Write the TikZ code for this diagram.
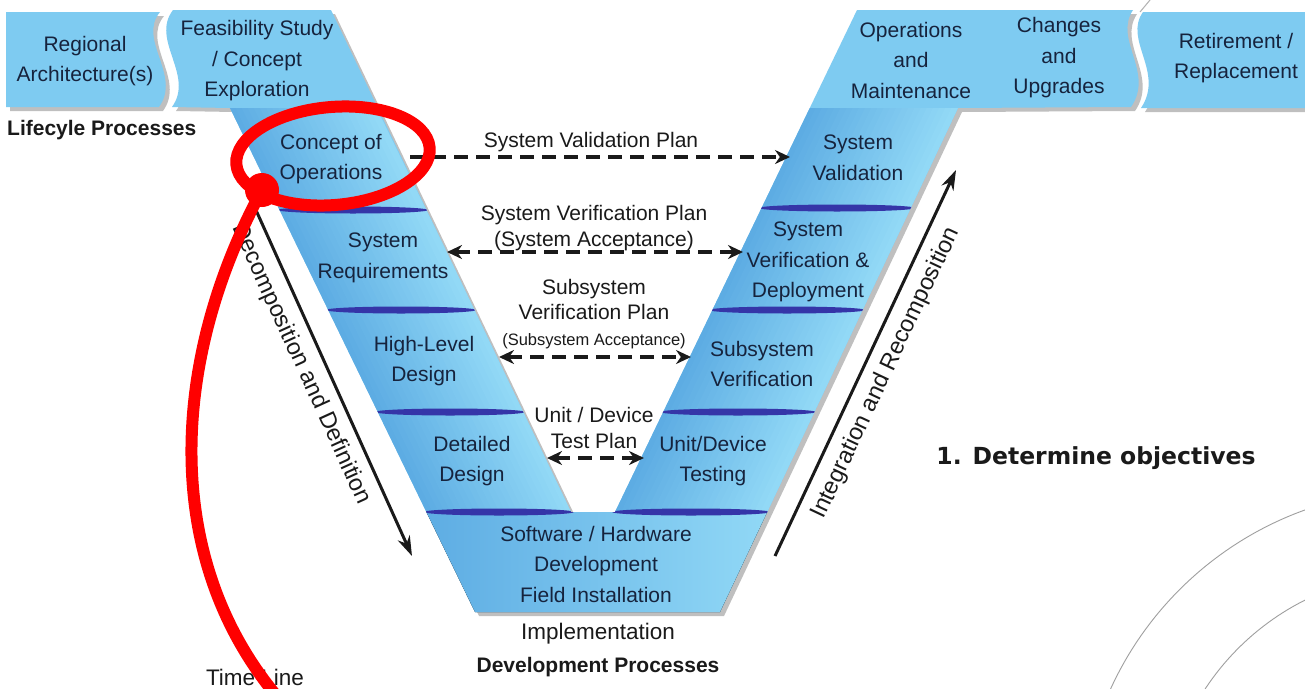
\documentclass[tikz,border=0pt]{standalone}
\usepackage{fontspec}
\setmainfont{Liberation Sans}
\newfontfamily\heavy{DejaVu Sans}
\usetikzlibrary{shadows,arrows.meta}
\definecolor{vdark}{HTML}{5DACE3}
\definecolor{vlight}{HTML}{92D9F6}
\definecolor{vmid}{HTML}{7ECBF1}
\definecolor{vline}{HTML}{3535A8}
\definecolor{navy}{HTML}{16233D}
\definecolor{ink}{HTML}{1A1A1A}
\begin{document}
\begin{tikzpicture}[x=1pt,y=-1pt,
  lbl/.style={align=center,text=navy,font=\fontsize{21}{30.5}\selectfont,inner sep=0pt},
  outl/.style={align=center,text=ink,font=\fontsize{22.5}{28}\selectfont,inner sep=0pt},
  boldl/.style={text=ink,font=\bfseries\fontsize{21}{26}\selectfont,inner sep=0pt},
  rotl/.style={text=ink,font=\fontsize{23.5}{28}\selectfont,inner sep=0pt},
  planl/.style={align=center,text=ink,font=\fontsize{21}{26}\selectfont,inner sep=0pt},
  planarrow/.style={line width=3.4pt,ink,dash pattern=on 14pt off 8pt},
  bigarrow/.style={line width=3pt,ink,-{Stealth[length=20pt,width=13pt]}},
  boxshadow/.style={drop shadow={shadow xshift=4pt,shadow yshift=-4pt,opacity=0.5}},
  redmark/.style={draw=red,line width=12pt}
]
\useasboundingbox (0,0) rectangle (1305,688);
\fill[white] (0,0) rectangle (1305,688);

% background arcs
\draw[gray!75,line width=0.9pt] (1420,830) circle[radius=340pt];
\draw[gray!75,line width=0.9pt] (1420,830) circle[radius=257pt];
\draw[gray!60,line width=1pt] (1150,0) -- (1140,12);

\def\Vpath{(173,10) -- (331,10) -- (571,512) -- (615,512) -- (857,10) -- (1133,10)
  .. controls (1113,40) and (1155,72) .. (1131,107) -- (958,108) -- (720,612)
  -- (475,612) -- (230,108) -- (172,107) .. controls (195,75) and (150,40) .. (173,10) -- cycle}

% regional box
\fill[vmid,boxshadow] (6,12) -- (160,12) .. controls (137,40) and (182,75) .. (159,107) -- (6,107) -- cycle;
% retirement box
\fill[vmid,boxshadow] (1143,12) -- (1305,12) -- (1305,108) -- (1141,108) .. controls (1165,72) and (1123,40) .. (1143,12) -- cycle;

% main V
\fill[vmid,boxshadow] \Vpath;
\begin{scope}
\path[clip] \Vpath;
\foreach \i in {0,...,23}{
  \pgfmathsetmacro\p{100*\i/23}
  \fill[vlight!\p!vdark] ({230+\i*6.083-0.6},108) -- ({230+(\i+1)*6.083+0.6},108)
     -- ({427+(\i+1)*6.083+0.6},512.5) -- ({427+\i*6.083-0.6},512.5) -- cycle;
  \fill[vlight!\p!vdark] ({810+\i*6.167-0.6},108) -- ({810+(\i+1)*6.167+0.6},108)
     -- ({615+(\i+1)*6.333+0.6},512.5) -- ({615+\i*6.333-0.6},512.5) -- cycle;
}
\fill[left color=vdark,right color=vlight] (420,512) rectangle (775,615);
\foreach \cx/\cy/\rx in {353/210/75, 401/310/75, 450/412/75, 499/512/75, 837/208/78, 787/310/78, 738/412/78, 691/512/79}
  \fill[vline] (\cx,\cy) ellipse [x radius=\rx, y radius=3.5];
\end{scope}

% labels in shapes
\node[lbl] (regional) at (85,61) {Regional\\Architecture(s)};
\node[lbl] (feas) at (257,61) {Feasibility Study\\/ Concept\\Exploration};
\node[lbl] (conops) at (331,159) {Concept of\\Operations};
\node[lbl] (sysreq) at (383,258) {System\\Requirements};
\node[lbl] (hld) at (424,361) {High-Level\\Design};
\node[lbl] (dd) at (472,461) {Detailed\\Design};
\node[lbl] (sw) at (596,564) {Software / Hardware\\Development\\Field Installation};
\node[lbl] (ops) at (911,60) {Operations\\and\\Maintenance};
\node[lbl] (chg) at (1059,58) {Changes\\and\\Upgrades};
\node[lbl] (ret) at (1236,58) {Retirement /\\Replacement};
\node[lbl] (sysval) at (858,158) {System\\Validation};
\node[lbl] (sysver) at (808,262) {System\\Verification \&\\Deployment};
\node[lbl] (subver) at (762,364) {Subsystem\\Verification};
\node[lbl] (unit) at (713,461) {Unit/Device\\Testing};

% outside labels
\node[boldl,anchor=west] (life) at (7,130) {Lifecyle Processes};
\node[outl] (impl) at (598,634) {Implementation};
\node[boldl] (devp) at (598,667) {Development Processes};
\node[outl] (time) at (255,677) {Time Line};
\node[text=ink,font=\heavy\bfseries\fontsize{23.5}{28}\selectfont,inner sep=0pt] (obj) at (1096,458) {1. Determine objectives};

% plan labels and arrows
\node[planl] (svp) at (591,142) {System Validation Plan};
\node[planl] (sverp) at (594,228) {System Verification Plan\\(System Acceptance)};
\node[planl,font=\fontsize{21}{25.5}\selectfont] (subvp) at (594,314) {Subsystem\\Verification Plan\\{\fontsize{16.5}{20}\selectfont(Subsystem Acceptance)}};
\node[planl] (udtp) at (594,428) {Unit / Device\\Test Plan};

\coordinate (a1) at (410,157); \coordinate (b1) at (790,157);
\coordinate (a2) at (447,252); \coordinate (b2) at (743,252);
\coordinate (a3) at (499,357); \coordinate (b3) at (691,357);
\coordinate (a4) at (547,458); \coordinate (b4) at (644,458);
\draw[planarrow,-{Stealth[length=15pt,width=14pt]}] (a1) -- (b1);
\draw[planarrow,{Stealth[length=15pt,width=14pt]}-{Stealth[length=15pt,width=14pt]}] (a2) -- (b2);
\draw[planarrow,{Stealth[length=15pt,width=14pt]}-{Stealth[length=15pt,width=14pt]}] (a3) -- (b3);
\draw[planarrow,{Stealth[length=15pt,width=14pt]}-{Stealth[length=15pt,width=14pt]}] (a4) -- (b4);

% side arrows
\coordinate (decA) at (232,157); \coordinate (decB) at (412,556);
\draw[bigarrow] (decA) -- (decB);
\node[rotl,rotate=-65.5] (dec) at (301,364) {Decomposition and Definition};
\coordinate (intA) at (775,556); \coordinate (intB) at (956,170);
\draw[bigarrow] (intA) -- (intB);
\node[rotl,rotate=64.8] (int) at (886,373) {Integration and Recomposition};

% red annotation
\draw[redmark,rotate around={5:(333,156)}] (333,156) ellipse [x radius=97, y radius=49];
\fill[red] (262,190) circle[radius=17pt];
\coordinate (rs) at (262,190); \coordinate (re) at (280,700);
\draw[red,line width=12pt] (rs) .. controls (170,360) and (160,560) .. (re);
\end{tikzpicture}
\end{document}
